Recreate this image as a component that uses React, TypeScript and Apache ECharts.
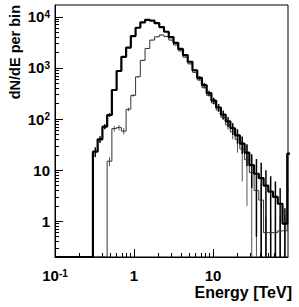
import React, { useEffect, useRef } from 'react';
import * as echarts from 'echarts';

// Histogram binning: log10(E/TeV) from -1 in steps of 0.06 (50 bins)
const LOG_E_START = -1;
const LOG_E_STEP = 0.06;

// Thick histogram (counts per bin) and its errors
const THICK_COUNTS = [
  0, 0, 0, 0, 0, 0, 0, 0,
  23, 40, 71, 120, 370, 870, 1650, 2500, 4200, 6100, 7800, 8700,
  8400, 7500, 6300, 5100, 4000, 3100, 2350, 1780, 1320, 900,
  640, 460, 320, 230, 168, 122, 90, 66, 48, 33,
  22, 12.5, 8.5, 7, 5, 3.8, 3, 2.2, 0.9, 21,
];
const THICK_ERRORS = [
  0, 0, 0, 0, 0, 0, 0, 0,
  5, 6, 8, 10, 18, 28, 40, 50, 65, 80, 90, 95,
  95, 90, 80, 72, 63, 55, 48, 42, 36, 30,
  50, 45, 38, 32, 28, 24, 20, 17, 15, 12,
  10, 8, 8, 7, 5, 3.8, 3, 2.2, 0.9, 9,
];

// Thin histogram (counts per bin) and its errors
const THIN_COUNTS = [
  0, 0, 0, 0, 0, 0, 0, 0, 0, 0, 0,
  15, 65, 68, 58, 155, 290, 670, 1400, 2400,
  3500, 4050, 4400, 4100, 3500, 2800, 2150, 1620, 1200, 820,
  580, 410, 290, 205, 150, 108, 78, 56, 40, 26,
  16, 9, 4, 2.6, 0.6, 0.6, 0.6, 0.65, 0.65, 4,
];
const THIN_ERRORS = [
  0, 0, 0, 0, 0, 0, 0, 0, 0, 0, 0,
  3, 8, 8, 8, 12, 17, 26, 38, 50,
  60, 65, 68, 65, 60, 52, 45, 38, 32, 28,
  24, 20, 17, 14, 12, 10, 16, 16, 18, 20,
  14, 9, 4, 2.6, 0.6, 0.6, 0.6, 0.65, 0.65, 4,
];

const X_MIN = 0.1;
const X_MAX = 89;
const Y_MIN = 0.2;
const Y_MAX = 17000;

const X_MAJOR = [0.1, 1, 10];
const X_MAJOR_LABELS = [['10', '-1'], ['1', ''], ['10', '']];
const X_MINOR = [0.2, 0.3, 0.4, 0.5, 0.6, 0.7, 0.8, 0.9, 2, 3, 4, 5, 6, 7, 8, 9, 20, 30, 40, 50, 60, 70, 80];
const Y_MAJOR = [1, 10, 100, 1000, 10000];
const Y_MAJOR_LABELS = [['1', ''], ['10', ''], ['10', '2'], ['10', '3'], ['10', '4']];
const Y_MINOR = [
  0.3, 0.4, 0.5, 0.6, 0.7, 0.8, 0.9,
  2, 3, 4, 5, 6, 7, 8, 9,
  20, 30, 40, 50, 60, 70, 80, 90,
  200, 300, 400, 500, 600, 700, 800, 900,
  2000, 3000, 4000, 5000, 6000, 7000, 8000, 9000,
];

const X_TITLE = 'Energy [TeV]';
const Y_TITLE = 'dN/dE per bin';

const FONT = '"Liberation Sans", Arial, Helvetica, sans-serif';

const N_BINS = THICK_COUNTS.length;
const EDGES = Array.from({ length: N_BINS + 1 }, (_, i) => Math.pow(10, LOG_E_START + LOG_E_STEP * i));

function stepPoints(counts: number[]) {
  const pts = counts.map((c, i) => [EDGES[i], c > 0 ? c : Y_MIN]);
  const last = counts[counts.length - 1];
  pts.push([EDGES[counts.length], last > 0 ? last : Y_MIN]);
  return pts;
}

function errorPoints(counts: number[], errors: number[]) {
  const out: number[][] = [];
  counts.forEach((c, i) => {
    if (c <= 0) return;
    const center = Math.sqrt(EDGES[i] * EDGES[i + 1]);
    const lo = Math.max(c - errors[i], Y_MIN);
    const hi = Math.min(c + errors[i], Y_MAX);
    out.push([center, lo, hi]);
  });
  return out;
}

function makeFormatter(values: number[], labels: string[][]) {
  return (v: number) => {
    const idx = values.findIndex((t) => Math.abs(t - v) / t < 1e-6);
    if (idx < 0) return '';
    const [base, sup] = labels[idx];
    return sup ? `{b|${base}}{s|${sup}}` : `{b|${base}}`;
  };
}

const RICH = {
  b: { fontSize: 15, fontWeight: 'bold', fontFamily: FONT, color: '#000', lineHeight: 15 },
  s: { fontSize: 10, fontWeight: 'bold', fontFamily: FONT, color: '#000', lineHeight: 8, verticalAlign: 'top' },
};

function errorSeries(data: number[][], color: string, width: number) {
  return {
    type: 'custom',
    xAxisIndex: 0,
    yAxisIndex: 0,
    clip: true,
    data,
    encode: { x: 0, y: [1, 2] },
    renderItem: (_params: any, api: any) => {
      const x = api.value(0);
      const p1 = api.coord([x, api.value(1)]);
      const p2 = api.coord([x, api.value(2)]);
      return {
        type: 'line',
        shape: { x1: p1[0], y1: p1[1], x2: p2[0], y2: p2[1] },
        style: { stroke: color, lineWidth: width },
      };
    },
  };
}

export default function App() {
  const ref = useRef<HTMLDivElement>(null);
  useEffect(() => {
    if (!ref.current) return;
    const chart = echarts.init(ref.current, undefined, { renderer: 'svg' });
    const tickLine = { color: '#000', width: 1 };
    chart.setOption({
      animation: false,
      backgroundColor: '#fff',
      grid: {
        left: 55, right: 11, top: 5, bottom: 50,
        show: true, borderColor: '#000', borderWidth: 1,
        containLabel: false, outerBoundsMode: 'none',
      },
      xAxis: [
        {
          type: 'log', logBase: 10, min: X_MIN, max: X_MAX, position: 'bottom',
          axisLine: { show: true, lineStyle: tickLine },
          axisTick: { show: true, inside: true, length: 8, lineStyle: tickLine, customValues: X_MAJOR },
          axisLabel: {
            show: true, customValues: X_MAJOR, margin: 11, hideOverlap: false,
            formatter: makeFormatter(X_MAJOR, X_MAJOR_LABELS), rich: RICH,
          },
          splitLine: { show: false },
          minorTick: { show: false },
          name: X_TITLE, nameLocation: 'end', nameGap: 4, nameMoveOverlap: false,
          nameTextStyle: {
            fontSize: 16, fontWeight: 'bold', fontFamily: FONT, color: '#000', lineHeight: 16,
            align: 'right', verticalAlign: 'top', padding: [27, 0, 0, 0],
          },
        },
        {
          type: 'log', logBase: 10, min: X_MIN, max: X_MAX, position: 'bottom',
          axisLine: { show: false },
          axisTick: { show: true, inside: true, length: 4, lineStyle: tickLine, customValues: X_MINOR },
          axisLabel: { show: false },
          splitLine: { show: false },
        },
      ],
      yAxis: [
        {
          type: 'log', logBase: 10, min: Y_MIN, max: Y_MAX, position: 'left',
          axisLine: { show: true, lineStyle: tickLine },
          axisTick: { show: true, inside: true, length: 8, lineStyle: tickLine, customValues: Y_MAJOR },
          axisLabel: {
            show: true, customValues: Y_MAJOR, margin: 5, hideOverlap: false,
            formatter: makeFormatter(Y_MAJOR, Y_MAJOR_LABELS), rich: RICH,
          },
          splitLine: { show: false },
          minorTick: { show: false },
          name: Y_TITLE, nameLocation: 'end', nameGap: 0, nameRotate: 90, nameMoveOverlap: false,
          nameTextStyle: {
            fontSize: 14.5, fontWeight: 'bold', fontFamily: FONT, color: '#000', lineHeight: 15,
            align: 'right', verticalAlign: 'bottom', padding: [0, 0, 33, 0],
          },
        },
        {
          type: 'log', logBase: 10, min: Y_MIN, max: Y_MAX, position: 'left',
          axisLine: { show: false },
          axisTick: { show: true, inside: true, length: 4, lineStyle: tickLine, customValues: Y_MINOR },
          axisLabel: { show: false },
          splitLine: { show: false },
        },
      ],
      series: [
        errorSeries(errorPoints(THIN_COUNTS, THIN_ERRORS), '#555', 1),
        errorSeries(errorPoints(THICK_COUNTS, THICK_ERRORS), '#000', 1.5),
        {
          type: 'line', xAxisIndex: 0, yAxisIndex: 0, step: 'end', clip: true,
          showSymbol: false, symbol: 'none', silent: true,
          data: stepPoints(THIN_COUNTS),
          lineStyle: { color: '#333', width: 1 },
        },
        {
          type: 'line', xAxisIndex: 0, yAxisIndex: 0, step: 'end', clip: true,
          showSymbol: false, symbol: 'none', silent: true,
          data: stepPoints(THICK_COUNTS),
          lineStyle: { color: '#000', width: 2.2 },
        },
      ],
    });
    return () => chart.dispose();
  }, []);
  return (
    <div
      ref={ref}
      style={{ position: 'fixed', left: 0, top: 0, width: 299, height: 307, background: '#fff' }}
    />
  );
}
